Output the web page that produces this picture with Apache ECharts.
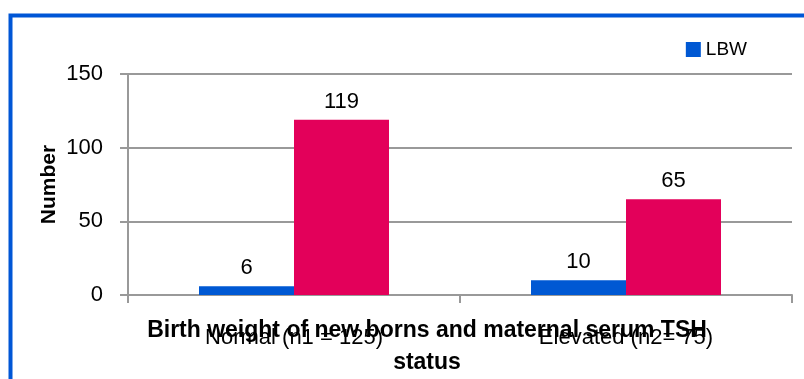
<!DOCTYPE html>
<html>
<head>
<meta charset="utf-8">
<script src="https://cdn.jsdelivr.net/npm/echarts@6/dist/echarts.min.js"></script>
<style>
  html, body { margin: 0; padding: 0; background: #fff; }
  #main { width: 804px; height: 379px; }
</style>
</head>
<body>
<div id="main"></div>
<script>
var myChart = echarts.init(document.getElementById('main'));

var categories = ['Normal (n1 = 125)', 'Elevated (n2= 75)'];
var lbw = [6, 10];
var nbw = [119, 65];
var yTicks = [0, 50, 100, 150];

var font = 'Liberation Sans, sans-serif';

var option = {
    animation: false,
    backgroundColor: '#fff',
    textStyle: { fontFamily: font },
    graphic: [{
        type: 'rect',
        left: 8,
        top: 13,
        shape: { width: 830, height: 400 },
        style: { fill: 'none', stroke: '#0056d6', lineWidth: 4 },
        silent: true
    }],
    legend: {
        data: ['LBW'],
        right: 52,
        top: 35,
        icon: 'rect',
        itemWidth: 15,
        itemHeight: 15,
        itemGap: 6,
        textStyle: { fontSize: 19, color: '#000', fontFamily: font }
    },
    grid: {
        left: 128,
        right: 12,
        top: 74,
        bottom: 84,
        containLabel: false,
        outerBoundsMode: 'none'
    },
    xAxis: {
        type: 'category',
        data: categories,
        axisLine: { lineStyle: { color: '#999', width: 2 } },
        axisTick: { show: true, length: 8, lineStyle: { color: '#999', width: 2 } },
        axisLabel: { fontSize: 22, color: '#000', margin: 32, fontFamily: font },
        name: 'Birth weight of new borns and maternal serum TSH\nstatus',
        nameLocation: 'middle',
        nameGap: 20,
        nameMoveOverlap: false,
        nameTextStyle: {
            fontSize: 23, fontWeight: 'bold', color: '#000',
            lineHeight: 32, fontFamily: font,
            padding: [0, 66, 0, 0]
        }
    },
    yAxis: {
        type: 'value',
        min: yTicks[0],
        max: yTicks[yTicks.length - 1],
        interval: 50,
        axisLine: { show: true, lineStyle: { color: '#999', width: 2 } },
        axisTick: { show: true, length: 8, lineStyle: { color: '#999', width: 2 } },
        axisLabel: { fontSize: 22, color: '#000', margin: 25, fontFamily: font },
        splitLine: { lineStyle: { color: '#999', width: 2 } },
        name: 'Number',
        nameLocation: 'middle',
        nameRotate: 90,
        nameGap: 68,
        nameMoveOverlap: false,
        nameTextStyle: { fontSize: 21, fontWeight: 'bold', color: '#000', fontFamily: font }
    },
    series: [{
        name: 'LBW',
        type: 'bar',
        data: lbw,
        barWidth: 95,
        barGap: '0%',
        itemStyle: { color: '#0058d3' },
        label: { show: true, position: 'top', distance: 7, fontSize: 22, color: '#000', fontFamily: font }
    }, {
        name: 'NBW',
        type: 'bar',
        data: nbw,
        barWidth: 95,
        barGap: '0%',
        itemStyle: { color: '#e3005a' },
        label: { show: true, position: 'top', distance: 7, fontSize: 22, color: '#000', fontFamily: font }
    }]
};
myChart.setOption(option);
</script>
</body>
</html>
